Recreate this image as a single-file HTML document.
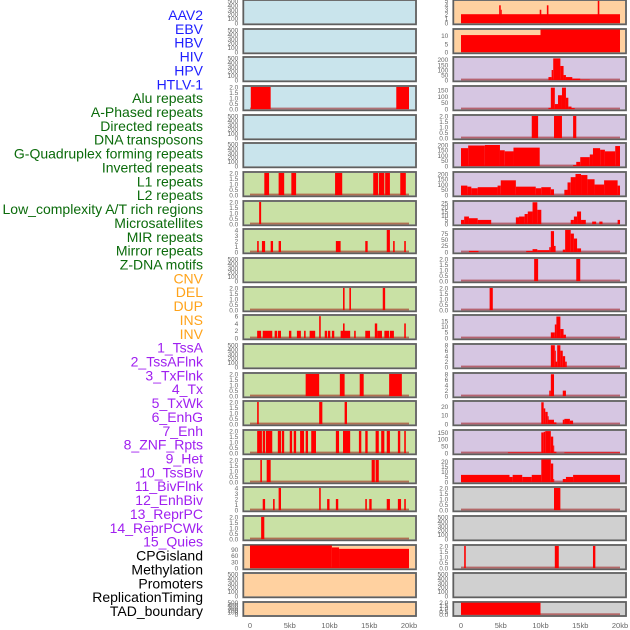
<!DOCTYPE html>
<html><head><meta charset="utf-8"><style>
html,body{margin:0;padding:0;background:#fff;}
svg{display:block;font-family:"Liberation Sans",sans-serif;}
</style></head><body>
<svg id="chart" width="630" height="630" viewBox="0 0 630 630"></svg>
<script>
const panelNames=["AAV2","EBV","HBV","HIV","HPV","HTLV-1","Alu repeats","A-Phased repeats","Directed repeats","DNA transposons","G-Quadruplex forming repeats","Inverted repeats","L1 repeats","L2 repeats","Low_complexity A/T rich regions","Microsatellites","MIR repeats","Mirror repeats","Z-DNA motifs","CNV","DEL","DUP","INS","INV","1_TssA","2_TssAFlnk","3_TxFlnk","4_Tx","5_TxWk","6_EnhG","7_Enh","8_ZNF_Rpts","9_Het","10_TssBiv","11_BivFlnk","12_EnhBiv","13_ReprPC","14_ReprPCWk","15_Quies","CPGisland","Methylation","Promoters","ReplicationTiming","TAD_boundary"];
const E=[0,100,200,300,400,500], T2=[0,0.5,1,1.5,2];
const panelTicks=[E,E,E,T2,E,E,T2,T2,[0,1,2,3,4],E,T2,[0,2,4,6],E,T2,T2,T2,T2,[0,1,2,3,4],T2,[0,30,60,90],E,E,
[0,1,2,3,4,5],[0,5,10],[0,50,100,150,200],[0,50,100,150],T2,[0,50,100,150,200],[0,50,100,150,200],[0,5,10,15,20,25],[0,25,50,75],T2,T2,[0,5,10,15],[0,2,4,6,8],[0,2,4,6,8],[0,10,20],[0,50,100,150],[0,5,10,15,20],T2,E,T2,E,T2];
const panelYmax=[520,520,520,2.05,520,520,2.05,2.05,4.1,520,2.05,6.2,520,2.05,2.05,2.05,2.05,4.1,2.05,112,520,520,
5.1,14,225,180,2.05,215,215,27,92,2.05,2.05,20,8.3,8.3,26,165,22,2.05,520,2.05,520,2.05];
const panelSegments=[[],[],[],[[0.1,2.6,2],[18.4,20,2]],[],[],
[[1.8,2.4,2],[3.6,4.3,2],[5.2,5.8,2],[10.7,11.6,2],[15.5,16.1,2],[16.2,16.9,2],[17.0,17.6,2],[18.9,19.6,2]],
[[1.15,1.4,2]],
[[0.9,1.1,2],[1.5,1.9,2],[2.6,2.9,2],[3.6,3.9,2],[10.8,11.4,2],[14.5,14.8,2],[17.2,17.6,4],[18.0,18.2,2],[19.4,19.6,2]],
[],
[[11.7,11.9,2],[12.5,12.7,2],[16.7,17.0,2]],
[[0.9,1.4,2],[1.6,2.8,2],[3.1,3.4,2],[3.5,3.9,2],[4.9,5.2,2],[5.9,6.4,2],[6.8,7.0,2],[7.5,8.2,2],[8.7,8.9,6],[9.4,9.7,2],[9.8,10.1,2],[10.3,10.6,2],[11.4,12.2,2],[11.7,11.9,4],[12.2,12.6,2],[13.1,13.3,2],[14.5,15.1,2],[15.7,16.0,4],[16.0,16.6,2],[16.9,17.5,2],[17.6,18.1,2],[19.4,19.6,4]],
[],
[[7.0,8.7,2],[11.3,11.9,2],[13.8,14.3,2],[17.5,19.1,2]],
[[0.9,1.1,2],[8.7,9.1,2],[11.9,12.2,2]],
[[0.9,1.5,2],[1.6,1.9,2],[2.0,2.8,2],[3.5,3.9,2],[4.0,4.3,2],[5.0,5.3,2],[5.5,5.8,2],[6.3,6.8,2],[7.0,7.3,2],[7.7,8.3,2],[10.8,11.2,2],[11.7,12.6,2],[13.7,14.0,2],[14.5,14.8,2],[15.8,16.2,2],[16.5,16.9,2],[17.2,17.6,2],[18.6,18.9,2],[19.4,19.6,2]],
[[1.3,1.5,2],[2.1,2.6,2],[15.3,15.7,2],[15.8,16.2,2]],
[[1.6,1.9,2],[2.9,3.1,2],[3.6,3.9,4],[8.7,8.9,4],[9.7,10.0,2],[10.8,11.1,2],[14.5,14.7,2],[15.0,15.3,2],[17.2,17.6,2],[18.6,19.0,2],[19.4,19.6,2]],
[[1.4,1.8,2]],
[[0,10.3,112],[10.3,11.2,102],[11.2,20,95]],
[],[],
[[0,20,2],[4.8,5.0,4],[5.0,5.1,3],[9.9,10.1,3],[10.8,11.0,4],[17.2,17.4,5]],
[[0,10,10.5],[10,20,14]],
[[11.0,11.4,30],[11.4,11.6,100],[11.6,12.5,215],[12.5,12.9,140],[12.9,13.2,50],[13.2,14.0,30],[14.0,15.0,15],[15.0,16.2,5]],
[[11.0,11.3,10],[11.3,11.8,170],[11.8,12.2,40],[12.2,12.7,110],[12.7,13.2,170],[13.2,13.5,90],[13.5,13.9,20],[13.9,14.3,8]],
[[8.9,9.7,2],[11.7,12.7,2],[14.1,14.5,2]],
[[0,0.9,170],[0.9,3,195],[3,4.9,200],[4.9,5.5,150],[5.5,6.6,140],[6.6,9.9,175],[14.1,14.5,10],[14.5,15,40],[15,16.2,85],[16.2,16.6,110],[16.6,17.5,170],[17.5,18.1,155],[18.1,19.4,140],[19.4,20,190]],
[[0,0.8,90],[0.8,1.3,80],[1.3,2.1,65],[2.1,4.6,75],[4.6,5.0,90],[5.0,6.9,140],[6.9,9.4,80],[9.4,10.1,65],[10.1,11.3,75],[11.3,11.7,55],[13.0,13.4,50],[13.4,13.8,120],[13.8,14.4,170],[14.4,15.1,200],[15.1,15.9,190],[15.9,16.8,150],[16.8,18.0,100],[18.0,19.7,140],[19.7,20,90]],
[[0,0.4,5],[0.4,1.0,9],[1.0,2.1,7],[2.1,3.8,5],[6.9,7.3,8],[7.3,8.0,9],[8.0,8.4,12],[8.4,9.0,15],[9.0,9.6,26],[9.6,10.1,17],[13.8,14.2,5],[14.2,14.6,9],[14.6,15.1,15],[15.1,15.7,5],[16.5,17.0,3],[17.4,17.8,3],[19.7,20,5]],
[[1.0,2.2,5],[8.2,9.0,5],[9.0,9.6,12],[9.6,11.1,8],[11.1,11.3,20],[11.3,11.7,85],[11.7,11.9,25],[12.8,13.1,10],[13.1,13.8,90],[13.8,14.2,75],[14.2,14.6,55],[14.6,15.1,15]],
[[9.2,9.7,2],[14.5,15.0,2]],
[[3.6,4.0,2]],
[[11.3,11.8,5],[11.8,12.0,12],[12.0,12.5,19],[12.5,12.9,8],[12.9,13.2,3]],
[[11.3,11.8,8],[11.8,11.9,6],[11.9,12.1,2],[12.1,12.5,8],[12.5,12.8,6],[12.8,13.1,4],[13.1,13.3,2]],
[[11.1,11.3,2],[11.3,11.7,8],[12.8,13.2,2]],
[[10.1,10.4,25],[10.4,10.6,18],[10.6,10.9,14],[10.9,11.0,9],[11.0,11.7,5],[11.7,12.0,2],[12.8,13.0,5],[13.0,13.7,6],[13.7,14.1,4]],
[[5.9,10.1,5],[10.1,10.4,150],[10.4,10.6,155],[10.6,11.3,160],[11.3,11.6,120],[11.6,11.7,55],[11.7,12.0,10],[13.0,20,5]],
[[0,6.1,7],[6.1,6.5,5],[6.5,7.7,7],[7.7,8.9,5],[8.9,10.1,7],[10.1,11.3,22],[11.3,11.6,18],[11.6,11.7,3],[12.8,13.2,3],[13.2,14.1,5],[14.1,20,7]],
[[11.7,12.5,2]],
[],
[[0.4,0.6,2],[11.8,12.3,2],[16.6,16.9,2]],
[],
[[0,10,2]]];
const xTickValues=[0,5,10,15,20];
const xTickLabels=["0","5kb","10kb","15kb","20kb"];

const NS="http://www.w3.org/2000/svg";
const svg=document.getElementById('chart');
function mk(tag,attrs,parent){const e=document.createElementNS(NS,tag);for(const k in attrs)e.setAttribute(k,attrs[k]);(parent||svg).appendChild(e);return e;}
const rowTops=[];for(let i=0;i<22;i++)rowTops.push(Math.round(i*28.67));
const colLeft=[243.3,453.3], colW=172.7, x0=[250,461], kbPx=7.95;
function xScale(col,kb){return x0[col]+kb*kbPx;}
function labelColor(i){if(i<6)return"#1e1eff";if(i<19)return"#0b6b0b";if(i<24)return"#ffa31a";if(i<39)return"#a020f0";return"#000";}
function bgColor(i){if(i<6)return"#c9e4ec";if(i<19)return"#c9e1a5";if(i<24)return"#ffd1a0";if(i<39)return"#d6c6e2";return"#d0d0d0";}

panelNames.forEach((n,i)=>{
  const t=mk('text',{x:203,y:(20+i*13.86).toFixed(1),'text-anchor':'end','font-size':'14',fill:labelColor(i)});
  t.textContent=n;
  
  
});

for(let p=0;p<44;p++){
  const col=p<22?0:1, row=p%22;
  const top=rowTops[row], h=row===21?14:24.3;
  const g=mk('g',{});
  
  
  const bg=mk('rect',{x:colLeft[col],y:top,width:colW,height:h,fill:bgColor(p),stroke:'#888','stroke-width':2},g);
  
  
  const ymax=panelYmax[p], base=top+h-1.2, span=h-1.6;
  const yScale=v=>base-(v/ymax)*span;
  const segs=panelSegments[p];
  if(segs.length){
    const bl=mk('rect',{x:xScale(col,0),y:base-1.5,width:20*kbPx,height:1.8,fill:'rgba(150,0,0,0.5)'},g);
    
    
  }
  segs.forEach(s=>{
    const r=mk('rect',{x:xScale(col,s[0]).toFixed(2),y:yScale(s[2]).toFixed(2),width:Math.max(1,(s[1]-s[0])*kbPx).toFixed(2),height:(base-yScale(s[2])).toFixed(2),fill:'#ff0000'},g);
    
    
  });
  mk('rect',{x:colLeft[col],y:top,width:colW,height:h,fill:'none',stroke:'#555','stroke-width':1},g);
  const ticks=panelTicks[p];
  const dec=ticks.some(v=>v%1!==0);
  ticks.forEach(v=>{
    const t=mk('text',{x:colLeft[col]-5,y:(yScale(v)+2.3).toFixed(1),'text-anchor':'end','font-size':'6.5',fill:'#666'},g);
    t.textContent=dec?v.toFixed(1):String(v);
    
    
  });
}
for(let col=0;col<2;col++){
  xTickValues.forEach((v,k)=>{
    const t=mk('text',{x:xScale(col,v),y:628,'text-anchor':'middle','font-size':'7.5',fill:'#666'});
    t.textContent=xTickLabels[k];
    
    
  });
}
</script>
</body></html>
